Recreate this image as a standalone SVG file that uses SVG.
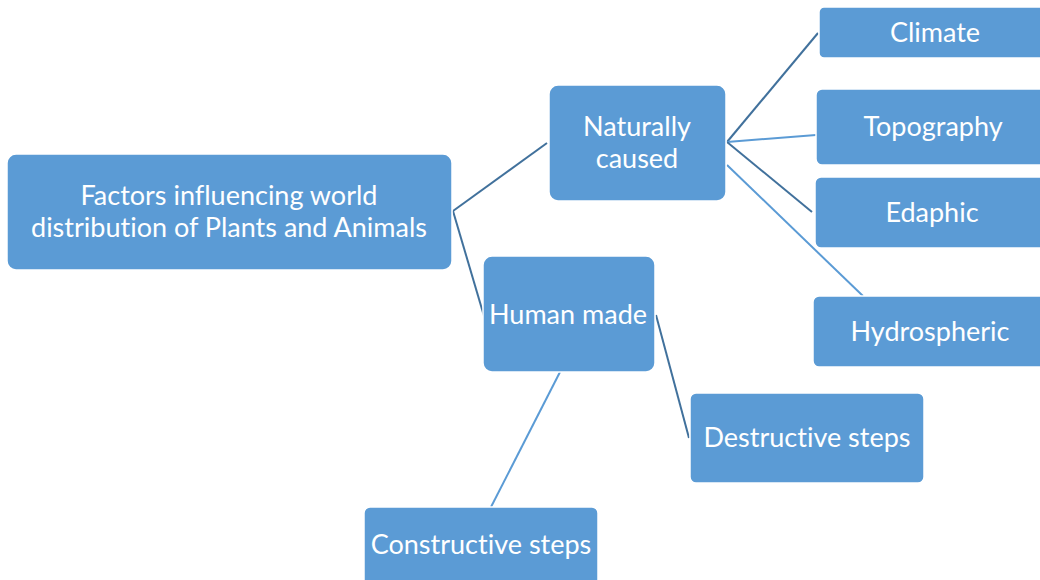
<svg xmlns="http://www.w3.org/2000/svg" width="1040" height="580" viewBox="0 0 1040 580">
<style>
.box{fill:#5B9BD5;stroke:#FFFFFF;stroke-width:1.5}
.t{font-family:Lato,"Liberation Sans",sans-serif;font-size:27px;fill:#FFFFFF;text-anchor:middle;font-variant-ligatures:none}
.cd{stroke:#41719C;stroke-width:2;fill:none}
.cl{stroke:#5B9BD5;stroke-width:2;fill:none}
</style>
<rect width="1040" height="580" fill="#FFFFFF"/>
<g id="connectors">
<line class="cd" x1="453" y1="211" x2="547" y2="143"/>
<line class="cd" x1="453" y1="211" x2="484" y2="316"/>
<line class="cd" x1="727" y1="142" x2="818" y2="33"/>
<line class="cl" x1="727" y1="142" x2="816" y2="135"/>
<line class="cd" x1="727" y1="142" x2="812" y2="212"/>
<line class="cl" x1="727" y1="165" x2="863" y2="296"/>
<line class="cd" x1="656" y1="315" x2="689" y2="438"/>
<line class="cl" x1="560" y1="372" x2="491" y2="507"/>
</g>
<g id="factors">
<rect class="box" x="7" y="154" width="445" height="116" rx="9"/>
<text class="t" x="229" y="205">Factors influencing world</text>
<text class="t" x="229" y="237">distribution of Plants and Animals</text>
</g>
<g id="naturally">
<rect class="box" x="549" y="85" width="177" height="116" rx="9"/>
<text class="t" x="637" y="136">Naturally</text>
<text class="t" x="637" y="168">caused</text>
</g>
<g id="human">
<rect class="box" x="483" y="256" width="172" height="116" rx="9"/>
<text class="t" x="568" y="324">Human made</text>
</g>
<g id="climate">
<rect class="box" x="819" y="7" width="240" height="51" rx="5"/>
<text class="t" x="935" y="42">Climate</text>
</g>
<g id="topography">
<rect class="box" x="816" y="89" width="240" height="76" rx="6"/>
<text class="t" x="933" y="136">Topography</text>
</g>
<g id="edaphic">
<rect class="box" x="815" y="177" width="240" height="71" rx="6"/>
<text class="t" x="932" y="222">Edaphic</text>
</g>
<g id="hydrospheric">
<rect class="box" x="813" y="296" width="240" height="71" rx="6"/>
<text class="t" x="930" y="341">Hydrospheric</text>
</g>
<g id="destructive">
<rect class="box" x="690" y="393" width="234" height="90" rx="6"/>
<text class="t" x="807" y="447">Destructive steps</text>
</g>
<g id="constructive">
<rect class="box" x="364" y="507" width="234" height="90" rx="6"/>
<text class="t" x="481" y="554">Constructive steps</text>
</g>
</svg>
